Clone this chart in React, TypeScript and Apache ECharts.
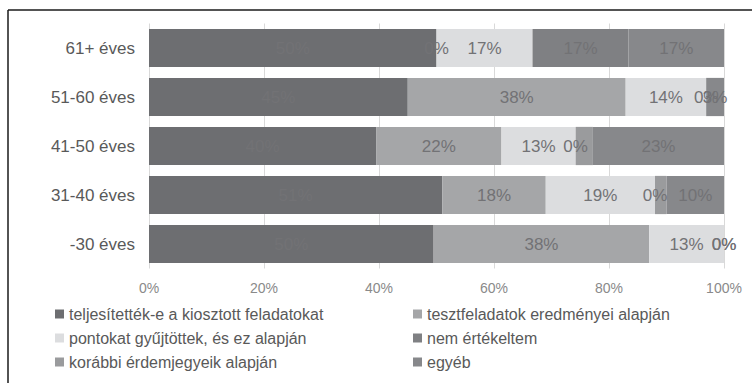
import React, { useEffect, useRef } from "react";
import * as echarts from "echarts";

const categories = ["-30 éves", "31-40 éves", "41-50 éves", "51-60 éves", "61+ éves"];
const seriesNames = [
  "teljesítették-e a kiosztott feladatokat",
  "tesztfeladatok eredményei alapján",
  "pontokat gyűjtöttek, és ez alapján",
  "nem értékeltem",
  "korábbi érdemjegyeik alapján",
  "egyéb",
];
const teljesitettek = [49.5, 51, 39.5, 45, 50];
const tesztfeladatok = [37.5, 18, 21.8, 37.9, 0];
const pontokat = [13, 19, 12.9, 14, 16.7];
const nemErtekeltem = [0, 0, 0, 0, 16.7];
const korabbi = [0, 2, 3, 0, 0];
const egyeb = [0, 10, 22.8, 3.1, 16.6];
const xTicks = [0, 20, 40, 60, 80, 100];

const seriesData = [teljesitettek, tesztfeladatok, pontokat, nemErtekeltem, korabbi, egyeb];
const colors = ["#6d6e71", "#a5a6a8", "#dcdddf", "#7f8083", "#9a9b9d", "#87888b"];
const showLabels = [true, true, true, true, false, true];

const FONT = "'Liberation Sans', Arial, sans-serif";

export default function App() {
  const ref = useRef<HTMLDivElement>(null);
  useEffect(() => {
    if (!ref.current) return;
    const chart = echarts.init(ref.current, undefined, { renderer: "svg" });
    chart.setOption({
      animation: false,
      textStyle: { fontFamily: FONT },
      grid: { left: 149, right: 28, top: 23.5, height: 245, containLabel: false },
      xAxis: {
        type: "value",
        min: xTicks[0],
        max: xTicks[xTicks.length - 1],
        interval: 20,
        axisLabel: { formatter: "{value}%", color: "#8a8a8a", fontSize: 14, margin: 12, fontFamily: FONT },
        splitLine: { show: true, lineStyle: { color: "#d9d9d9", width: 1 } },
        axisLine: { show: false },
        axisTick: { show: false },
      },
      yAxis: {
        type: "category",
        data: categories,
        axisLabel: { color: "#595959", fontSize: 17, margin: 14, fontFamily: FONT },
        axisLine: { show: false },
        axisTick: { show: false },
      },
      legend: [
        {
          orient: "vertical",
          left: 50,
          top: 301,
          itemWidth: 9,
          itemHeight: 9,
          itemGap: 8,
          icon: "rect",
          data: [seriesNames[0], seriesNames[2], seriesNames[4]],
          textStyle: { color: "#595959", fontSize: 16, fontFamily: FONT },
        },
        {
          orient: "vertical",
          left: 408,
          top: 301,
          itemWidth: 9,
          itemHeight: 9,
          itemGap: 8,
          icon: "rect",
          data: [seriesNames[1], seriesNames[3], seriesNames[5]],
          textStyle: { color: "#595959", fontSize: 16, fontFamily: FONT },
        },
      ],
      graphic: [
        { type: "line", shape: { x1: 8, y1: 10, x2: 752, y2: 10 }, style: { stroke: "#1a1a1a", lineWidth: 1.5 } },
        { type: "line", shape: { x1: 8, y1: 10, x2: 8, y2: 383 }, style: { stroke: "#1a1a1a", lineWidth: 1.5 } },
      ],
      series: seriesNames.map((name, i) => ({
        name,
        type: "bar",
        stack: "total",
        barCategoryGap: "22%",
        data: seriesData[i],
        itemStyle: { color: colors[i] },
        label: {
          show: showLabels[i],
          position: "inside",
          color: "#727275",
          fontSize: 17,
          fontFamily: FONT,
          formatter: (p: any) => `${Math.round(p.value)}%`,
        },
      })),
    });
    return () => chart.dispose();
  }, []);
  return <div ref={ref} style={{ position: "absolute", left: 0, top: 0, width: 752, height: 383, background: "#fff" }} />;
}
